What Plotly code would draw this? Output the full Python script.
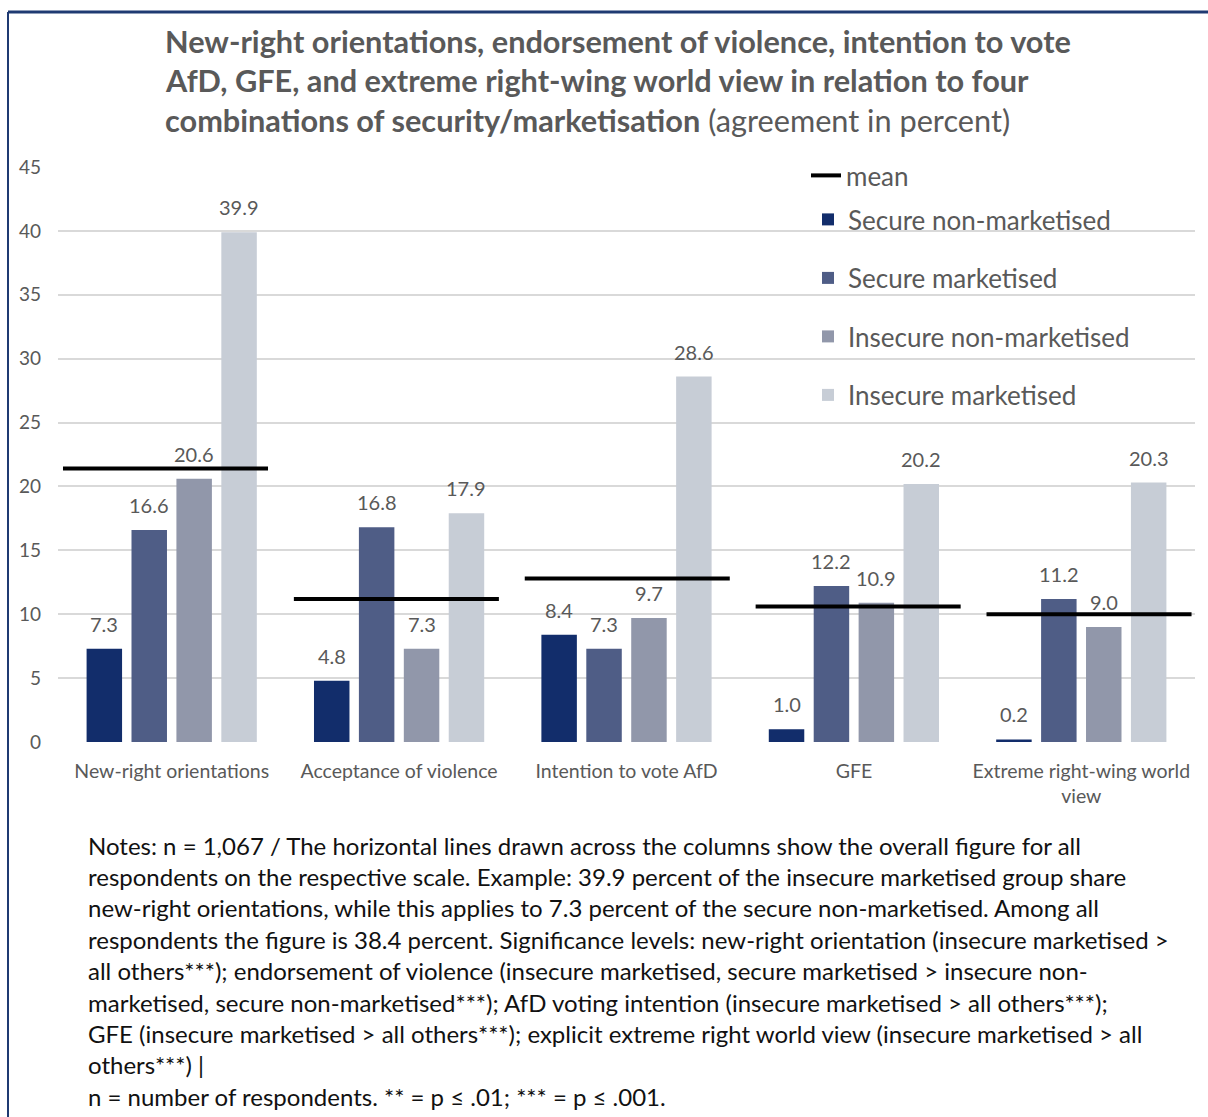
import plotly.graph_objects as go

categories = ["New-right orientations", "Acceptance of violence", "Intention to vote AfD", "GFE",
              "Extreme right-wing world<br>view"]
series_names = ["Secure non-marketised", "Secure marketised", "Insecure non-marketised", "Insecure marketised"]
secure_non_marketised = [7.3, 4.8, 8.4, 1.0, 0.2]
secure_marketised = [16.6, 16.8, 7.3, 12.2, 11.2]
insecure_non_marketised = [20.6, 7.3, 9.7, 10.9, 9.0]
insecure_marketised = [39.9, 17.9, 28.6, 20.2, 20.3]
mean_values = [21.4, 11.2, 12.8, 10.6, 10.0]
y_ticks = [0, 5, 10, 15, 20, 25, 30, 35, 40, 45]

title_lines = [
    "<b>New-right orientations, endorsement of violence, intention to vote</b>",
    "<b>AfD, GFE, and extreme right-wing world view in relation to four</b>",
    "<b>combinations of security/marketisation</b> (agreement in percent)",
]
note_lines = [
    "Notes: n = 1,067 / The horizontal lines drawn across the columns show the overall figure for all",
    "respondents on the respective scale. Example: 39.9 percent of the insecure marketised group share",
    "new-right orientations, while this applies to 7.3 percent of the secure non-marketised. Among all",
    "respondents the figure is 38.4 percent. Significance levels: new-right orientation (insecure marketised >",
    "all others***); endorsement of violence (insecure marketised, secure marketised > insecure non-",
    "marketised, secure non-marketised***); AfD voting intention (insecure marketised > all others***);",
    "GFE (insecure marketised > all others***); explicit extreme right world view (insecure marketised > all",
    "others***) |",
    "n = number of respondents. ** = p \u2264 .01; *** = p \u2264 .001.",
]

colors = ["#122d6b", "#4f5d86", "#9197aa", "#c7cdd6"]
FONT = "Lato"
GRAY = "#595959"

W, H = 1208, 1117
L, R, T, B = 58, 13, 167, 375
plot_w = W - L - R
plot_h = H - T - B
BARGAP = 0.21
BARGROUPGAP = 0.21
N_CAT = len(categories)
N_SER = len(series_names)
slot_px = plot_w / N_CAT * (1 - BARGAP) / N_SER


def py(p):  # pixel y -> paper y
    return (H - B - p) / plot_h


def px(p):  # pixel x -> paper x
    return (p - L) / plot_w


fig = go.Figure()
all_series = [secure_non_marketised, secure_marketised, insecure_non_marketised, insecure_marketised]
annotations = []
for i, (name, vals) in enumerate(zip(series_names, all_series)):
    fig.add_trace(go.Bar(
        x=categories, y=vals, name=name, marker=dict(color=colors[i], line=dict(width=0)),
        legendgroup=f"g{i}", legend="legend", hoverinfo="x+y+name",
    ))
    for c, v in zip(categories, vals):
        annotations.append(dict(text=f"{v:.1f}", x=c, y=v, xref="x", yref="y",
                                xshift=(i - (N_SER - 1) / 2) * slot_px, yshift=11,
                                xanchor="center", yanchor="bottom", showarrow=False,
                                font=dict(family=FONT, size=20, color=GRAY)))

# mean lines on an overlaid numeric axis
mx, my = [], []
for i, m in enumerate(mean_values):
    mx += [i - 0.444, i + 0.444, None]
    my += [m, m, None]
fig.add_trace(go.Scatter(x=mx, y=my, mode="lines", name="mean", xaxis="x2",
                         line=dict(color="black", width=4), legend="legend2", hoverinfo="skip"))

for k, t in enumerate(title_lines):
    annotations.append(dict(text=t, xref="paper", yref="paper", x=px(163), y=py(41 + k * 39.5),
                            xanchor="left", yanchor="middle", showarrow=False,
                            font=dict(family=FONT, size=30.7, color=GRAY)))
for k, t in enumerate(note_lines):
    annotations.append(dict(text=t, xref="paper", yref="paper", x=px(86), y=py(845 + k * 31.4),
                            xanchor="left", yanchor="middle", showarrow=False, align="left",
                            font=dict(family=FONT, size=24, color="#111111")))

shapes = [
    dict(type="line", xref="paper", yref="paper", x0=px(8), x1=px(1210), y0=py(12), y1=py(12),
         line=dict(color="#1f3a72", width=3)),
    dict(type="line", xref="paper", yref="paper", x0=px(8), x1=px(8), y0=py(12), y1=py(1120),
         line=dict(color="#1f3a72", width=2)),
]

fig.update_layout(
    width=W, height=H, autosize=False,
    margin=dict(l=L, r=R, t=T, b=B),
    paper_bgcolor="white", plot_bgcolor="white",
    barmode="group", bargap=BARGAP, bargroupgap=BARGROUPGAP,
    font=dict(family=FONT, color=GRAY),
    xaxis=dict(type="category", showgrid=False, zeroline=False, showline=False,
               tickfont=dict(family=FONT, size=19.5, color=GRAY), ticklabelstandoff=15),
    xaxis2=dict(overlaying="x", range=[-0.4656, 4.459], visible=False),
    yaxis=dict(range=[0, 45], tickvals=y_ticks, showgrid=True, gridcolor="#d9d9d9", gridwidth=2,
               zeroline=False, showline=False, tickfont=dict(family=FONT, size=19, color=GRAY),
               ticklabelstandoff=16),
    legend=dict(x=px(808), y=py(196), xanchor="left", yanchor="top", bgcolor="rgba(0,0,0,0)",
                font=dict(family=FONT, size=26, color=GRAY), tracegroupgap=21.7,
                traceorder="grouped"),
    legend2=dict(x=px(806), y=py(152), xanchor="left", yanchor="top", bgcolor="rgba(0,0,0,0)",
                 font=dict(family=FONT, size=26, color=GRAY)),
    annotations=annotations, shapes=shapes, showlegend=True,
)

fig.write_html("out.html")
